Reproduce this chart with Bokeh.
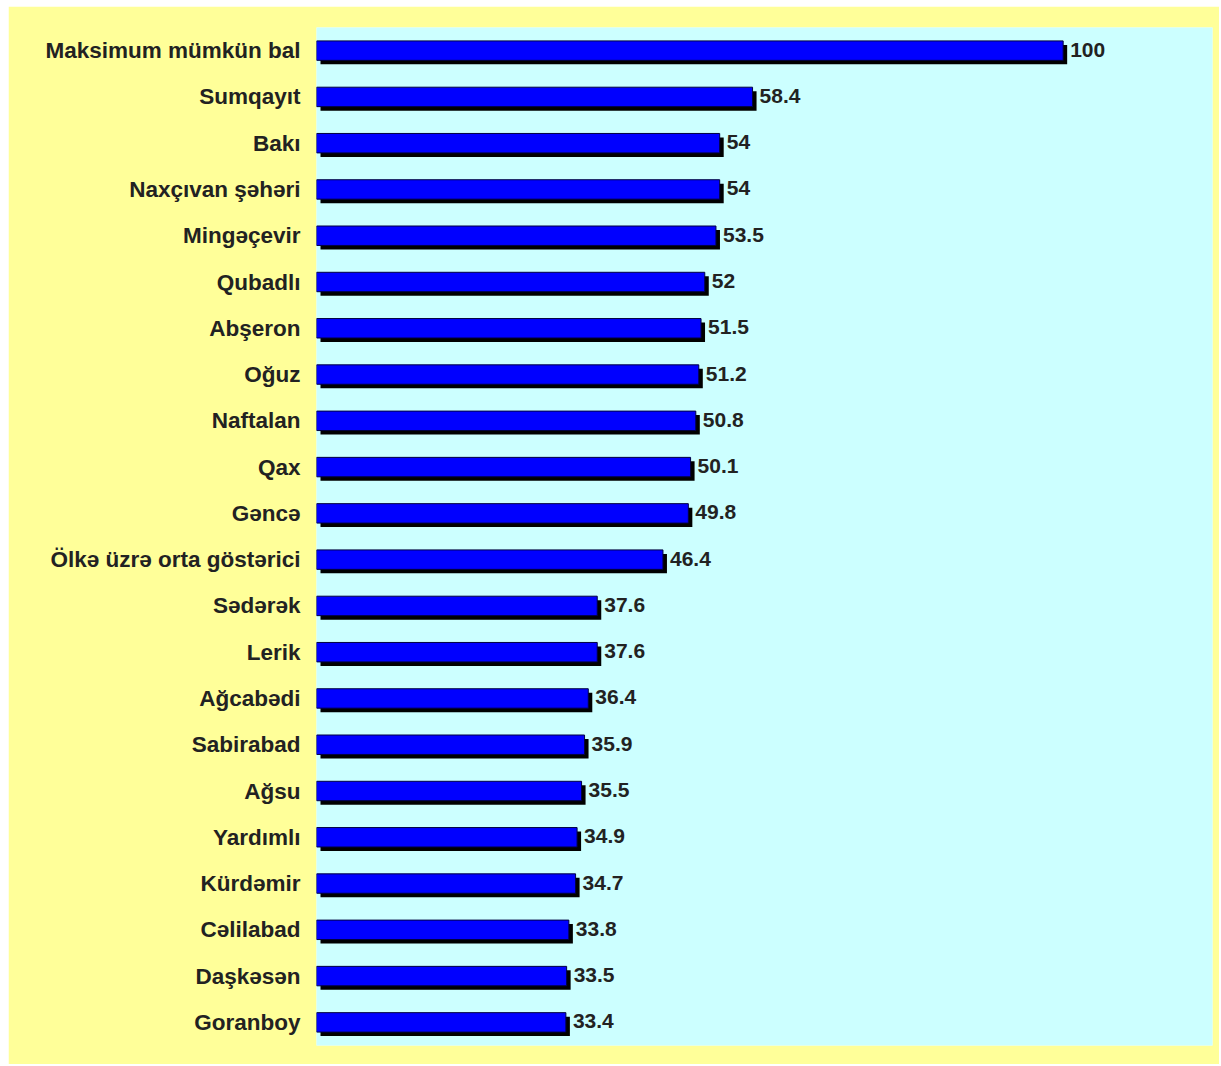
from bokeh.plotting import figure
from bokeh.models import FactorRange, Range1d, ColumnDataSource
from bokeh.transform import dodge
from bokeh.embed import file_html
from bokeh.resources import INLINE
from bokeh.core.properties import value

categories = [
    "Maksimum mümkün bal", "Sumqayıt", "Bakı", "Naxçıvan şəhəri", "Mingəçevir",
    "Qubadlı", "Abşeron", "Oğuz", "Naftalan", "Qax", "Gəncə",
    "Ölkə üzrə orta göstərici", "Sədərək", "Lerik", "Ağcabədi", "Sabirabad",
    "Ağsu", "Yardımlı", "Kürdəmir", "Cəlilabad", "Daşkəsən", "Goranboy",
]
scores = [100, 58.4, 54, 54, 53.5, 52, 51.5, 51.2, 50.8, 50.1, 49.8,
          46.4, 37.6, 37.6, 36.4, 35.9, 35.5, 34.9, 34.7, 33.8, 33.5, 33.4]
score_labels = ["100", "58.4", "54", "54", "53.5", "52", "51.5", "51.2", "50.8",
                "50.1", "49.8", "46.4", "37.6", "37.6", "36.4", "35.9", "35.5",
                "34.9", "34.7", "33.8", "33.5", "33.4"]

X_MAX = 120
W, H = 1211, 1058
BL, BR, BT, BB = 308, 7, 21, 19
frame_w = W - BL - BR
frame_h = H - BT - BB
px_x = X_MAX / frame_w              # data units per pixel (x)
px_y = len(categories) / frame_h    # factor units per pixel (y)
SHIFT = 4

src = ColumnDataSource(dict(
    cat=categories,
    val=scores,
    lab=score_labels,
    sh_left=[SHIFT * px_x] * len(scores),
    sh_right=[v + SHIFT * px_x for v in scores],
))

p = figure(
    width=W, height=H,
    y_range=FactorRange(factors=list(reversed(categories)), range_padding=0),
    x_range=Range1d(0, X_MAX),
    output_backend="svg", toolbar_location=None,
    min_border_left=BL, min_border_right=BR, min_border_top=BT, min_border_bottom=BB,
    x_axis_location=None,
)
p.margin = (6, 0, 0, 8)
p.background_fill_color = "#CCFFFF"
p.border_fill_color = "#FFFF99"
p.outline_line_color = None
p.xgrid.visible = False
p.ygrid.visible = False

bar_h = 0.42

p.hbar(y=dodge("cat", -SHIFT * px_y, range=p.y_range), left="sh_left", right="sh_right",
       height=bar_h, source=src, fill_color="#000000", line_color=None)
p.hbar(y="cat", left=0, right="val", height=bar_h, source=src,
       fill_color="#0000FF", line_color="#000040", line_width=1)

p.text(x="val", y="cat", text="lab", source=src, x_offset=7, y_offset=-1,
       text_font=value("Liberation Sans"), text_font_style="bold",
       text_font_size="21px", text_color="#222222",
       text_align="left", text_baseline="middle")

ax = p.yaxis[0]
ax.axis_line_color = None
ax.major_tick_line_color = None
ax.minor_tick_line_color = None
ax.major_tick_out = 0
ax.major_tick_in = 0
ax.major_label_standoff = 16
ax.major_label_text_font = "Liberation Sans"
ax.major_label_text_font_style = "bold"
ax.major_label_text_font_size = "22.5px"
ax.major_label_text_color = "#222222"

open("out.html", "w").write(file_html(p, INLINE))
